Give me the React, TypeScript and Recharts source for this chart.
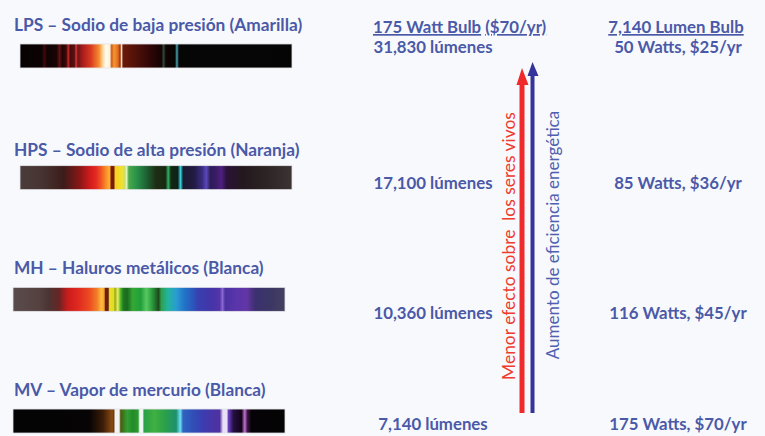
import React from 'react';
import { ScatterChart, Scatter, XAxis, YAxis, Customized } from 'recharts';

const LAMPS = [
  'LPS – Sodio de baja presión (Amarilla)',
  'HPS – Sodio de alta presión (Naranja)',
  'MH – Haluros metálicos (Blanca)',
  'MV – Vapor de mercurio (Blanca)',
];
const LUMENS = [31830, 17100, 10360, 7140];
const WATTS = [50, 85, 116, 175];
const COST_PER_YEAR = [25, 36, 45, 70];
const HEADER_LEFT_A = '175 Watt Bulb';
const HEADER_LEFT_B = '($70/yr)';
const HEADER_RIGHT = '7,140 Lumen Bulb';
const RED_LABEL = 'Menor efecto sobre  los seres vivos';
const BLUE_LABEL = 'Aumento de eficiencia energética';

type Stop = [number, string];
const SPECTRUM_LPS: Stop[] = [
  [0, '#060202'], [0.08, '#0c0303'], [0.09, '#3c0a0a'], [0.1, '#0e0303'],
  [0.135, '#1a0404'], [0.145, '#6a1010'], [0.155, '#200505'],
  [0.17, '#3a0808'], [0.177, '#c82828'], [0.185, '#4a0a0a'],
  [0.2, '#5a1010'], [0.206, '#d83838'], [0.213, '#701414'],
  [0.23, '#a81c1c'], [0.26, '#d83a20'], [0.29, '#f58a30'], [0.305, '#ffd9a0'], [0.315, '#fffaf0'],
  [0.33, '#fff2dc'], [0.337, '#c85a14'], [0.345, '#f79636'], [0.36, '#e0701c'], [0.368, '#a03010'],
  [0.373, '#f4e4c8'], [0.379, '#6a1a0a'], [0.42, '#541208'], [0.48, '#2e0606'], [0.52, '#140303'],
  [0.528, '#2c4a3c'], [0.536, '#100303'], [0.57, '#060404'], [0.577, '#4aa4b4'], [0.584, '#060606'],
  [1, '#050505'],
];
const SPECTRUM_HPS: Stop[] = [
  [0, '#4a3c3a'], [0.08, '#463432'], [0.16, '#3c1c1a'], [0.22, '#8a1616'], [0.26, '#d41c1c'],
  [0.28, '#e42a22'], [0.3, '#f05a22'], [0.32, '#fb9a2a'], [0.33, '#fdb030'], [0.335, '#7a1a0c'],
  [0.345, '#7a1a0c'], [0.35, '#f7d01e'], [0.375, '#f2e030'], [0.385, '#c8e060'], [0.392, '#e0f4c0'],
  [0.4, '#4aa848'], [0.43, '#28904a'], [0.47, '#1c5a2e'], [0.5, '#1e2c14'], [0.535, '#182a14'],
  [0.545, '#34b060'], [0.555, '#142814'], [0.58, '#102018'], [0.59, '#38d0dc'], [0.6, '#1a1a30'],
  [0.64, '#221a44'], [0.67, '#3a2c80'], [0.685, '#5a48b8'], [0.7, '#2c1c58'], [0.72, '#3a1c66'],
  [0.74, '#4e2080'], [0.76, '#2a1238'], [0.82, '#24181e'], [0.9, '#2c2424'], [1, '#3c3434'],
];
const SPECTRUM_MH: Stop[] = [
  [0, '#5a4c4c'], [0.1, '#54403f'], [0.13, '#4a3434'], [0.17, '#6a2424'], [0.2, '#c81c1c'],
  [0.24, '#e02a20'], [0.28, '#ec4a20'], [0.31, '#f3802a'], [0.325, '#fdbd3c'], [0.335, '#f7a030'],
  [0.34, '#6a200e'], [0.35, '#6a200e'], [0.355, '#f0dc2a'], [0.37, '#d8e020'], [0.375, '#a0a020'],
  [0.385, '#e8f060'], [0.395, '#58b82a'], [0.405, '#1e7a22'], [0.42, '#1a6a20'], [0.44, '#34a834'],
  [0.47, '#20a03a'], [0.49, '#58c860'], [0.51, '#2ca040'], [0.535, '#1c4a1c'], [0.545, '#2ea050'],
  [0.57, '#22b4a0'], [0.6, '#2a9cd0'], [0.63, '#2274c8'], [0.66, '#2a58bc'], [0.68, '#3840b0'],
  [0.73, '#4434a8'], [0.76, '#5434a8'], [0.77, '#8a68d4'], [0.78, '#4c32a0'], [0.82, '#5a34ac'],
  [0.86, '#6236a4'], [0.89, '#3c3070'], [0.94, '#3a3666'], [1, '#444060'],
];
const SPECTRUM_MV: Stop[] = [
  [0, '#040404'], [0.28, '#060404'], [0.33, '#3a1c08'], [0.365, '#8a4a14'], [0.37, '#6a3a10'],
  [0.376, '#f2f2f2'], [0.39, '#f2f2f2'], [0.396, '#4a5a10'], [0.42, '#30a034'], [0.44, '#248a28'],
  [0.46, '#2a9a30'], [0.466, '#f0f8f4'], [0.476, '#f0f8f4'], [0.482, '#2aa048'], [0.52, '#40b040'],
  [0.56, '#2aa04a'], [0.6, '#1e9070'], [0.615, '#70e0f4'], [0.625, '#2f64c0'], [0.66, '#3050b8'],
  [0.7, '#3c3cb0'], [0.76, '#5030a0'], [0.772, '#e8e0f4'], [0.786, '#e8e0f4'], [0.792, '#6a40c0'],
  [0.81, '#241044'], [0.84, '#120414'], [0.852, '#c070d0'], [0.862, '#3a1840'], [0.876, '#060306'],
  [1, '#040404'],
];
const SPECTRA = [SPECTRUM_LPS, SPECTRUM_HPS, SPECTRUM_MH, SPECTRUM_MV];

const rows = LAMPS.map((lamp, i) => ({
  rank: i,
  lamp,
  lumens: LUMENS[i],
  watts: WATTS[i],
  cost: COST_PER_YEAR[i],
  spectrum: SPECTRA[i],
}));

const FONT = 'Lato, "Open Sans", sans-serif';
const BLUE_TEXT = '#4a59a8';
const VALUE_DY = [-3, 11, 20, 9];
const TITLE_DY = [-25, -22, -25, -25];
const SPEC_X = [20, 20, 13, 13];

const Row = (props: any) => {
  const { cy, payload } = props;
  const i = payload.rank;
  const id = `spec-${i}`;
  const sx = SPEC_X[i];
  const sw = 272;
  const sh = 24;
  return (
    <g>
      <defs>
        <linearGradient id={id} x1="0" y1="0" x2="1" y2="0">
          {payload.spectrum.map((s: Stop, k: number) => (
            <stop key={k} offset={s[0]} stopColor={s[1]} />
          ))}
        </linearGradient>
      </defs>
      <text x={14} y={cy + TITLE_DY[i]} fill={BLUE_TEXT} fontFamily={FONT} fontWeight={700} fontSize={17.3}>
        {payload.lamp}
      </text>
      <rect x={sx} y={cy - sh / 2} width={sw} height={sh} fill={`url(#${id})`} stroke="#e4e4e8" strokeWidth={0.8} />
      <text x={433} y={cy + VALUE_DY[i]} textAnchor="middle" fill={BLUE_TEXT} fontFamily={FONT} fontWeight={700} fontSize={16.8}>
        {`${payload.lumens.toLocaleString('en-US')} lúmenes`}
      </text>
      <text x={678} y={cy + VALUE_DY[i]} textAnchor="middle" fill={BLUE_TEXT} fontFamily={FONT} fontWeight={700} fontSize={16.8}>
        {`${payload.watts} Watts, $${payload.cost}/yr`}
      </text>
    </g>
  );
};

const Overlay = () => (
  <g>
    <text x={373} y={33} fill={BLUE_TEXT} fontFamily={FONT} fontWeight={700} fontSize={16.8}>
      <tspan style={{ textDecoration: 'underline' }}>{HEADER_LEFT_A}</tspan>
      <tspan> </tspan>
      <tspan style={{ textDecoration: 'underline' }}>{HEADER_LEFT_B}</tspan>
    </text>
    <text x={676} y={33} textAnchor="middle" fill={BLUE_TEXT} fontFamily={FONT} fontWeight={700} fontSize={16.8}
      style={{ textDecoration: 'underline' }}>
      {HEADER_RIGHT}
    </text>
    {/* red arrow */}
    <rect x={519.5} y={82} width={5} height={331} fill="#f02a2a" />
    <polygon points="516.5,85 528.5,85 522,68" fill="#f02a2a" />
    {/* blue arrow */}
    <rect x={530.5} y={73} width={4} height={340} fill="#34349a" />
    <polygon points="527.5,76 538.5,76 532.5,62" fill="#34349a" />
    <text x={508} y={246} transform="rotate(-90 508 246)" textAnchor="middle" dominantBaseline="central"
      fill="#ef3b2c" fontFamily={FONT} fontSize={17.4} style={{ whiteSpace: 'pre' }}>
      {RED_LABEL}
    </text>
    <text x={552} y={235} transform="rotate(-90 552 235)" textAnchor="middle" dominantBaseline="central"
      fill="#5060b0" fontFamily={FONT} fontSize={17} >
      {BLUE_LABEL}
    </text>
  </g>
);

export default function App() {
  return (
    <div style={{ position: 'absolute', left: 0, top: 0, width: 765, height: 436, background: '#f8f9fc' }}>
      <ScatterChart width={765} height={436} margin={{ top: 0, right: 0, bottom: 0, left: 0 }}>
        <XAxis type="number" dataKey="lumens" domain={[0, 40000]} hide />
        <YAxis type="number" dataKey="rank" domain={[-0.46, 3.123]} reversed allowDataOverflow hide />
        <Scatter data={rows} isAnimationActive={false} shape={(p: any) => <Row {...p} />} />
        <Customized component={Overlay} />
      </ScatterChart>
    </div>
  );
}
